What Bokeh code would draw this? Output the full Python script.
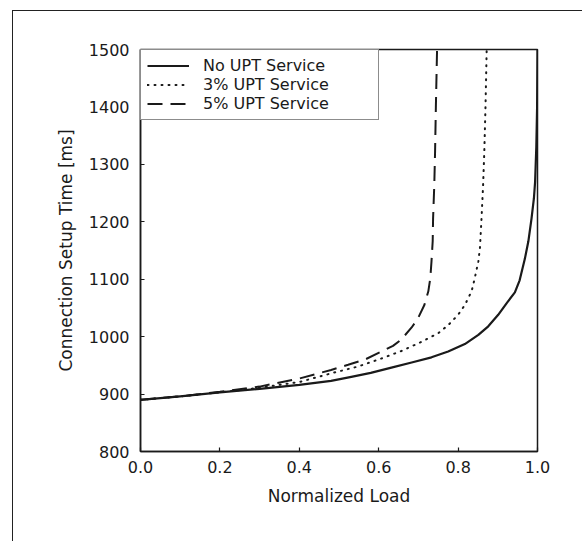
from bokeh.plotting import figure
from bokeh.models import Range1d, FixedTicker, Legend, LegendItem
from bokeh.embed import file_html
from bokeh.resources import INLINE

# Data
load_no = [0.0, 0.1, 0.2, 0.3, 0.4, 0.48, 0.531, 0.58, 0.632, 0.683, 0.733, 0.775, 0.817, 0.851,
           0.876, 0.901, 0.922, 0.943, 0.955, 0.968, 0.977, 0.985, 0.991, 0.994, 0.997, 0.999, 1.0]
time_no = [890, 896, 903, 909, 916, 923, 930, 937, 946, 955, 964, 974, 987, 1003,
           1018, 1038, 1058, 1077, 1098, 1135, 1166, 1206, 1241, 1270, 1330, 1400, 1500]

load_3 = [0.0, 0.1, 0.2, 0.3, 0.4, 0.48, 0.548, 0.607, 0.657, 0.708, 0.75, 0.775, 0.8, 0.817,
          0.834, 0.842, 0.851, 0.855, 0.859, 0.863, 0.866, 0.869, 0.872]
time_3 = [890, 896, 903, 911, 921, 936, 948, 962, 975, 991, 1006, 1020, 1038, 1055,
          1079, 1102, 1131, 1154, 1206, 1264, 1322, 1400, 1500]

load_5 = [0.0, 0.1, 0.2, 0.3, 0.4, 0.48, 0.523, 0.565, 0.607, 0.636, 0.657, 0.683, 0.699, 0.715,
          0.725, 0.73, 0.733, 0.736, 0.737, 0.74, 0.742, 0.744, 0.747]
time_5 = [890, 896, 904, 913, 927, 942, 951, 960, 974, 984, 995, 1016, 1032, 1055,
          1079, 1102, 1131, 1166, 1206, 1264, 1322, 1400, 1500]

series_labels = ["No UPT Service", "3% UPT Service", "5% UPT Service"]
x_ticks = [0.0, 0.2, 0.4, 0.6, 0.8, 1.0]
y_ticks = [800, 900, 1000, 1100, 1200, 1300, 1400, 1500]

FONT = "DejaVu Sans"
INK = "#1a1a1a"

p = figure(width=570, height=531, output_backend="svg", toolbar_location=None,
           x_range=Range1d(0, 1), y_range=Range1d(800, 1500),
           min_border_left=127, min_border_right=46, min_border_top=38, min_border_bottom=91)
p.margin = (10, 0, 0, 12)
p.styles = {"border-left": "1.5px solid #222", "border-top": "1.5px solid #222"}

p.xgrid.visible = False
p.ygrid.visible = False
p.outline_line_color = INK
p.outline_line_width = 1.5
p.outline_line_alpha = 1.0

for ax in (p.xaxis[0], p.yaxis[0]):
    ax.axis_line_color = INK
    ax.axis_line_width = 1.5
    ax.major_tick_in = 4
    ax.major_tick_out = 0
    ax.major_tick_line_color = INK
    ax.major_tick_line_width = 1.2
    ax.minor_tick_line_color = None
    ax.major_label_text_font = FONT
    ax.major_label_text_font_size = "16px"
    ax.major_label_text_color = INK
    ax.axis_label_text_font = FONT
    ax.axis_label_text_font_size = "17px"
    ax.axis_label_text_font_style = "normal"
    ax.axis_label_text_color = INK

p.xaxis.ticker = FixedTicker(ticks=x_ticks)
p.xaxis.major_label_overrides = {t: f"{t:.1f}" for t in x_ticks}
p.yaxis.ticker = FixedTicker(ticks=y_ticks)
p.xaxis.axis_label = "Normalized Load"
p.yaxis.axis_label = "Connection Setup Time [ms]"
p.xaxis.major_label_standoff = 9
p.xaxis.axis_label_standoff = 10
p.yaxis.major_label_standoff = 11
p.yaxis.axis_label_standoff = 10

r_no = p.line(load_no, time_no, line_color=INK, line_width=2.2, line_join="round")
r_3 = p.line(load_3, time_3, line_color=INK, line_width=2.0, line_dash="1 6", line_cap="round")
r_5 = p.line(load_5, time_5, line_color=INK, line_width=2.0, line_dash="15 8")

legend = Legend(items=[LegendItem(label=series_labels[0], renderers=[r_no]),
                       LegendItem(label=series_labels[1], renderers=[r_3]),
                       LegendItem(label=series_labels[2], renderers=[r_5])],
                location="top_left")
legend.margin = 0
legend.padding = 6
legend.spacing = 0
legend.border_line_color = INK
legend.border_line_width = 1.2
legend.background_fill_alpha = 1.0
legend.glyph_width = 42
legend.glyph_height = 17
legend.label_height = 17
legend.label_width = 169
legend.label_standoff = 14
legend.label_text_font = FONT
legend.label_text_font_size = "16px"
legend.label_text_color = INK
legend.label_text_baseline = "middle"
p.add_layout(legend)

open("out.html", "w").write(file_html(p, INLINE))
